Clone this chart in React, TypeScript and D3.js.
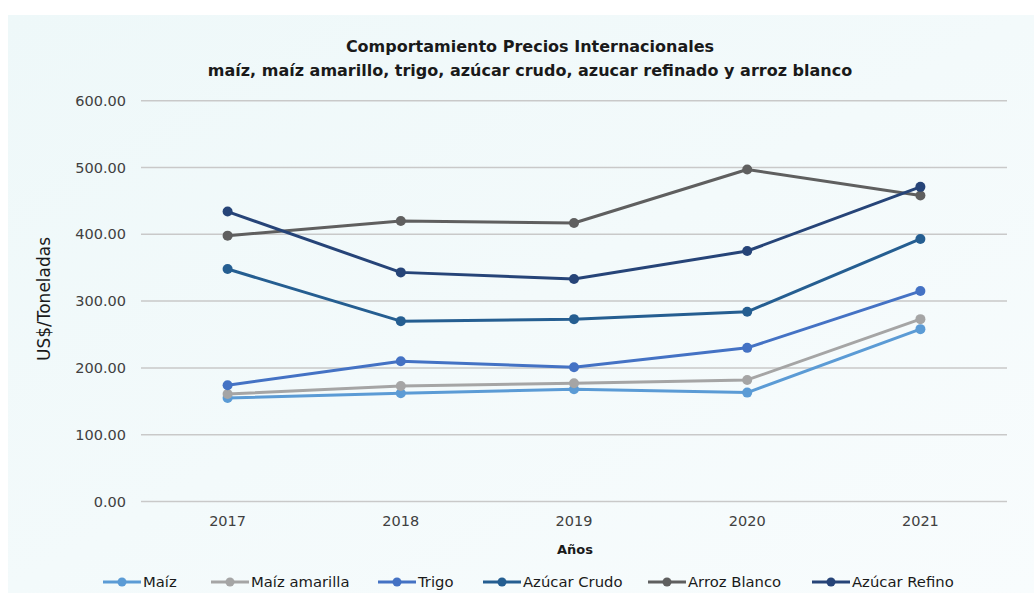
import React, { useEffect, useRef } from "react";
import * as d3 from "d3";

const years = ["2017", "2018", "2019", "2020", "2021"];
const maiz = [155, 162, 168, 163, 258];
const maizAmarilla = [161, 173, 177, 182, 273];
const trigo = [174, 210, 201, 230, 315];
const azucarCrudo = [348, 270, 273, 284, 393];
const arrozBlanco = [398, 420, 417, 497, 458];
const azucarRefino = [434, 343, 333, 375, 471];
const yTicks = [0, 100, 200, 300, 400, 500, 600];

const seriesNames = ["Maíz", "Maíz amarilla", "Trigo", "Azúcar Crudo", "Arroz Blanco", "Azúcar Refino"];
const seriesValues = [maiz, maizAmarilla, trigo, azucarCrudo, arrozBlanco, azucarRefino];
const seriesColors = ["#5B9BD5", "#A5A5A5", "#4472C4", "#255E91", "#5F5F5F", "#264478"];

const W = 1034;
const H = 593;
const FONT = "'DejaVu Sans', sans-serif";

export default function App() {
  const ref = useRef<SVGSVGElement | null>(null);

  useEffect(() => {
    const svg = d3.select(ref.current);
    svg.selectAll("*").remove();

    const defs = svg.append("defs");
    const grad = defs.append("linearGradient").attr("id", "bg").attr("x1", "0%").attr("y1", "0%").attr("x2", "100%").attr("y2", "100%");
    grad.append("stop").attr("offset", "0%").attr("stop-color", "#eef8f9");
    grad.append("stop").attr("offset", "100%").attr("stop-color", "#f8fcfd");

    svg.append("rect").attr("x", 0).attr("y", 0).attr("width", W).attr("height", H).attr("fill", "#ffffff");
    svg.append("rect").attr("x", 8).attr("y", 15).attr("width", W - 8).attr("height", H - 15).attr("fill", "url(#bg)");

    const left = 141, right = 1007, top = 100.7, bottom = 501.5;
    const x = d3.scalePoint<string>().domain(years).range([left, right]).padding(0.5);
    const y = d3.scaleLinear().domain([0, 600]).range([bottom, top]);

    // title
    const title = svg.append("text").attr("text-anchor", "middle").attr("font-family", FONT).attr("font-weight", 700).attr("font-size", 16).attr("fill", "#1a1a1a");
    title.append("tspan").attr("x", 530).attr("y", 52).text("Comportamiento Precios Internacionales");
    title.append("tspan").attr("x", 530).attr("y", 76).text("maíz, maíz amarillo, trigo, azúcar crudo, azucar refinado y arroz blanco");

    // grid
    const g = svg.append("g");
    g.selectAll("line.grid").data(yTicks).enter().append("line")
      .attr("x1", left).attr("x2", right)
      .attr("y1", (d) => y(d)).attr("y2", (d) => y(d))
      .attr("stroke", "#c9c9c9").attr("stroke-width", 1.5);

    g.selectAll("text.ytick").data(yTicks).enter().append("text")
      .attr("x", 126).attr("y", (d) => y(d)).attr("dy", "0.35em")
      .attr("text-anchor", "end").attr("font-family", FONT).attr("font-size", 14.5).attr("fill", "#404040")
      .text((d) => d3.format(".2f")(d));

    g.selectAll("text.xtick").data(years).enter().append("text")
      .attr("x", (d) => x(d) as number).attr("y", 526)
      .attr("text-anchor", "middle").attr("font-family", FONT).attr("font-size", 14.5).attr("fill", "#404040")
      .text((d) => d);

    svg.append("text").attr("x", 575).attr("y", 554).attr("text-anchor", "middle")
      .attr("font-family", FONT).attr("font-weight", 700).attr("font-size", 13).attr("fill", "#1a1a1a").text("Años");

    svg.append("text").attr("transform", "translate(50,299) rotate(-90)").attr("text-anchor", "middle")
      .attr("font-family", FONT).attr("font-size", 17).attr("fill", "#1a1a1a").text("US$/Toneladas");

    const line = d3.line<number>().x((_, i) => x(years[i]) as number).y((d) => y(d));

    seriesValues.forEach((vals, si) => {
      const sg = svg.append("g");
      sg.append("path").datum(vals).attr("d", line).attr("fill", "none")
        .attr("stroke", seriesColors[si]).attr("stroke-width", 3).attr("stroke-linejoin", "round");
      sg.selectAll("circle").data(vals).enter().append("circle")
        .attr("cx", (_, i) => x(years[i]) as number).attr("cy", (d) => y(d)).attr("r", 5)
        .attr("fill", seriesColors[si]);
    });

    // legend
    const legendXs = [103, 211, 378, 483, 648, 812];
    const ly = 582;
    seriesNames.forEach((name, si) => {
      const lg = svg.append("g").attr("transform", `translate(${legendXs[si]},${ly})`);
      lg.append("line").attr("x1", 0).attr("x2", 38).attr("y1", 0).attr("y2", 0)
        .attr("stroke", seriesColors[si]).attr("stroke-width", 3);
      lg.append("circle").attr("cx", 19).attr("cy", 0).attr("r", 4.5).attr("fill", seriesColors[si]);
      lg.append("text").attr("x", 40).attr("y", 0).attr("dy", "0.35em")
        .attr("font-family", FONT).attr("font-size", 14.8).attr("fill", "#1a1a1a").text(name);
    });
  }, []);

  return (
    <svg ref={ref} width={W} height={H} style={{ position: "absolute", left: 0, top: 0, display: "block" }} />
  );
}
